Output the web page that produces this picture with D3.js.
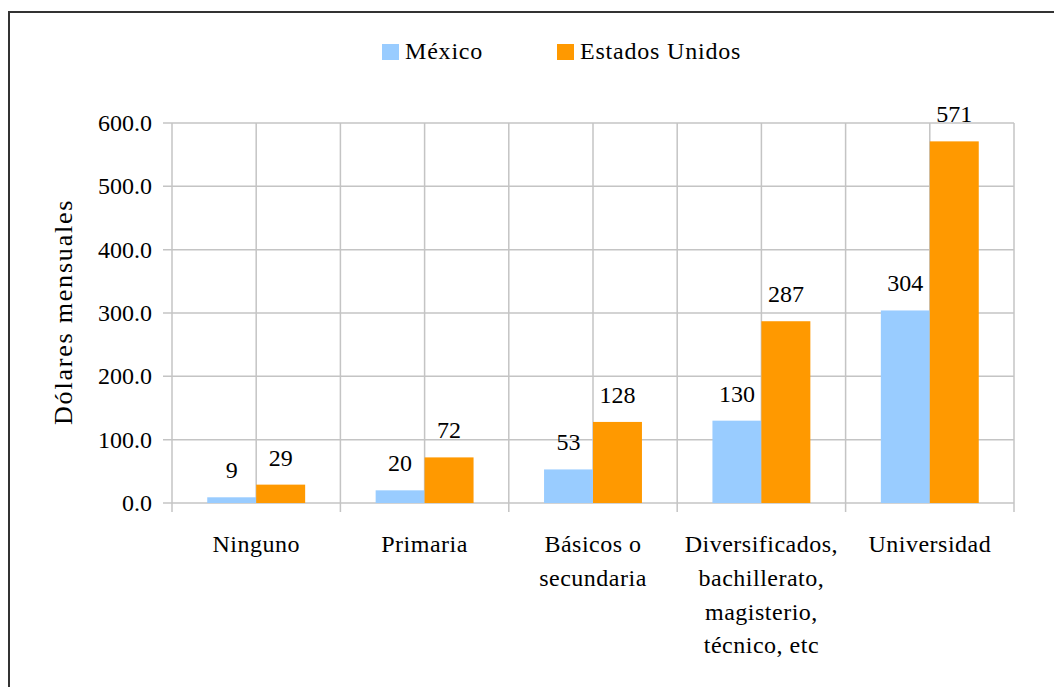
<!DOCTYPE html>
<html>
<head>
<meta charset="utf-8">
<script src="https://cdn.jsdelivr.net/npm/d3@7"></script>
</head>
<body style="margin:0">
<svg id="chart" width="1054" height="687"></svg>
<script>
// Data
const categories = [
  ['Ninguno'],
  ['Primaria'],
  ['Básicos o', 'secundaria'],
  ['Diversificados,', 'bachillerato,', 'magisterio,', 'técnico, etc'],
  ['Universidad'],
];
const seriesNames = ['México', 'Estados Unidos'];
const mexico = [9, 20, 53, 130, 304];
const estadosUnidos = [29, 72, 128, 287, 571];
const yTicks = [0, 100, 200, 300, 400, 500, 600];
const colors = ['#99CCFF', '#FF9900'];

const svg = d3.select('#chart');

// serif text helper
const serif = (sel, size) => sel
  .attr('font-family', 'Liberation Serif')
  .attr('font-size', size)
  .style('font-family', 'Liberation Serif')
  .style('font-size', `${size}px`);

// outer frame (runs off the right and bottom edges)
svg.append('rect')
  .attr('x', 9).attr('y', 12)
  .attr('width', 1100).attr('height', 700)
  .attr('fill', 'none')
  .attr('stroke', '#333')
  .attr('stroke-width', 2);

const margin = { left: 172, right: 1014, top: 123, bottom: 503 };

const x = d3.scaleBand()
  .domain(d3.range(categories.length))
  .range([margin.left, margin.right]);

const x1 = d3.scaleBand()
  .domain(d3.range(seriesNames.length))
  .range([0, x.bandwidth()])
  .paddingOuter(0.72)
  .paddingInner(0);

const y = d3.scaleLinear()
  .domain([0, 600])
  .range([margin.bottom, margin.top]);

const gridColor = '#c4c4c4';

// horizontal gridlines
svg.append('g')
  .selectAll('line')
  .data(yTicks)
  .join('line')
  .attr('x1', margin.left - 9)
  .attr('x2', margin.right)
  .attr('y1', (d) => y(d))
  .attr('y2', (d) => y(d))
  .attr('stroke', gridColor)
  .attr('stroke-width', 1.5);

// vertical gridlines at category edges and centres
const vLines = [];
for (let i = 0; i <= categories.length; i++) {
  vLines.push({ pos: margin.left + i * x.step(), edge: true });
  if (i < categories.length) vLines.push({ pos: x(i) + x.bandwidth() / 2, edge: false });
}
svg.append('g')
  .selectAll('line')
  .data(vLines)
  .join('line')
  .attr('x1', (d) => d.pos)
  .attr('x2', (d) => d.pos)
  .attr('y1', margin.top)
  .attr('y2', (d) => (d.edge ? margin.bottom + 9 : margin.bottom))
  .attr('stroke', gridColor)
  .attr('stroke-width', 1.5);

// y tick labels
svg.selectAll('text.ytick')
  .data(yTicks)
  .join('text')
  .attr('class', 'ytick')
  .attr('x', 152)
  .attr('y', (d) => y(d) + 8)
  .attr('text-anchor', 'end')
  .call(serif, 24)
  .text((d) => d3.format('.1f')(d));

// bars
const barData = [];
[mexico, estadosUnidos].forEach((vals, s) => vals.forEach((v, i) => barData.push({ v, i, s })));

svg.selectAll('rect.bar')
  .data(barData)
  .join('rect')
  .attr('class', 'bar')
  .attr('x', (d) => x(d.i) + x1(d.s))
  .attr('width', x1.bandwidth())
  .attr('y', (d) => y(d.v))
  .attr('height', (d) => y(0) - y(d.v))
  .attr('fill', (d) => colors[d.s]);

// value labels
svg.selectAll('text.val')
  .data(barData)
  .join('text')
  .attr('class', 'val')
  .attr('x', (d) => x(d.i) + x1(d.s) + x1.bandwidth() / 2)
  .attr('y', (d) => y(d.v) - 19)
  .attr('text-anchor', 'middle')
  .attr('fill', '#000')
  .call(serif, 24)
  .text((d) => d.v);

// category labels
const catLines = [];
categories.forEach((lines, i) => lines.forEach((l, j) => catLines.push({ l, i, j })));

svg.selectAll('text.cat')
  .data(catLines)
  .join('text')
  .attr('class', 'cat')
  .attr('x', (d) => x(d.i) + x.bandwidth() / 2)
  .attr('y', (d) => 552 + d.j * 33.8)
  .attr('text-anchor', 'middle')
  .call(serif, 24)
  .style('letter-spacing', '0.5px')
  .text((d) => d.l);

// y axis title (clipped like the original)
svg.append('clipPath')
  .attr('id', 'titleClip')
  .append('rect')
  .attr('x', 0).attr('y', 194)
  .attr('width', 120).attr('height', 300);

svg.append('g')
  .attr('clip-path', 'url(#titleClip)')
  .append('text')
  .attr('transform', 'translate(72,425) rotate(-90)')
  .call(serif, 26)
  .style('letter-spacing', '1.8px')
  .text('Dólares mensuales');

// legend
const legendX = [382, 557];
svg.selectAll('rect.leg')
  .data(seriesNames)
  .join('rect')
  .attr('class', 'leg')
  .attr('x', (d, i) => legendX[i])
  .attr('y', 44)
  .attr('width', 17)
  .attr('height', 16)
  .attr('fill', (d, i) => colors[i]);

svg.selectAll('text.leg')
  .data(seriesNames)
  .join('text')
  .attr('class', 'leg')
  .attr('x', (d, i) => legendX[i] + 23)
  .attr('y', 59)
  .call(serif, 24)
  .style('letter-spacing', '0.8px')
  .text((d) => d);
</script>
</body>
</html>
